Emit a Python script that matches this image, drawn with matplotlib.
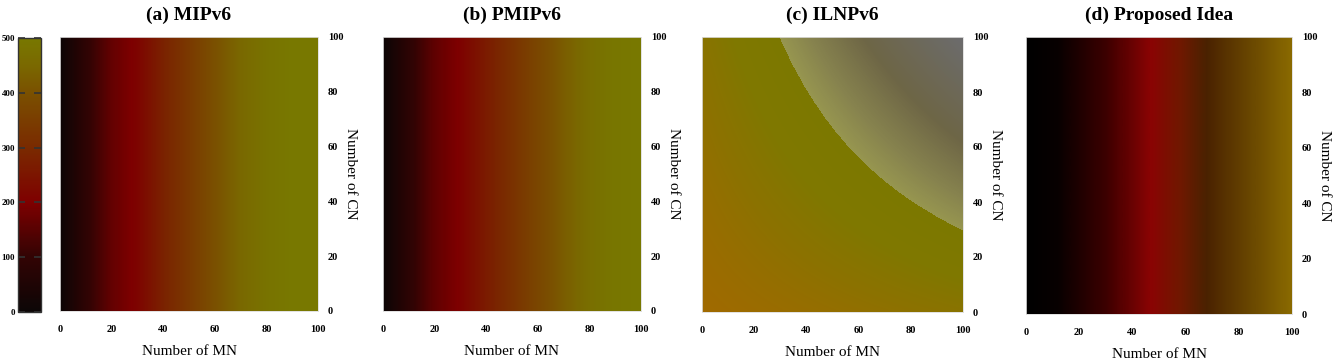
import numpy as np
import matplotlib
matplotlib.use("Agg")
import matplotlib.pyplot as plt
from matplotlib.colors import LinearSegmentedColormap, Normalize
from matplotlib.cm import ScalarMappable

plt.rcParams['font.family'] = ['Liberation Serif', 'DejaVu Serif']

# data: cost over Number of MN (columns) / Number of CN (rows)
mn_1d = [0, 10, 20, 30, 40, 50, 60, 70, 80, 90, 100]
mipv6 = [0, 90, 165, 210, 280, 340, 400, 450, 485, 500, 500]
pmipv6 = [0, 85, 160, 205, 265, 320, 375, 425, 470, 495, 500]
proposed = [0, 50, 100, 150, 200, 250, 300, 350, 400, 450, 500]

mn_c = [0, 20, 40, 60, 80, 100]
cn_c = [0, 20, 40, 60, 80, 100]
ilnpv6 = [[0, 30, 60, 90, 120, 150],
          [30, 80, 130, 180, 230, 280],
          [60, 130, 200, 270, 340, 410],
          [90, 180, 270, 360, 450, 540],
          [120, 230, 340, 450, 560, 670],
          [150, 280, 410, 540, 670, 800]]

titles = ["(a) MIPv6", "(b) PMIPv6", "(c) ILNPv6", "(d) Proposed Idea"]
ticks = [0, 20, 40, 60, 80, 100]
cb_ticks = [0, 100, 200, 300, 400, 500]

# palettes
cmap_main = LinearSegmentedColormap.from_list("main", [
    (0.0, "#0c0606"), (0.2, "#320404"), (0.4, "#7e0000"), (0.6, "#7a2a00"),
    (0.8, "#7a5000"), (0.9, "#7a6800"), (1.0, "#787800")])
cmap_c = LinearSegmentedColormap.from_list("ilnp", [
    (0.0, "#a06a00"), (0.16, "#8c7200"), (0.28, "#807800"), (0.43, "#7c7800"),
    (0.4312, "#979650"), (0.53, "#86824e"), (0.69, "#6e6646"), (1.0, "#6c6c6e")])
cmap_d = LinearSegmentedColormap.from_list("prop", [
    (0.0, "#000000"), (0.12, "#080000"), (0.3, "#3c0000"), (0.47, "#8a0404"),
    (0.58, "#701800"), (0.68, "#4a2200"), (0.85, "#6a4800"), (1.0, "#8a6a00")])

fig = plt.figure(figsize=(13.37, 3.59), dpi=100)
W, H = 1337.0, 359.0
boxes = [(60, 48, 258, 274), (383, 48, 258, 274), (702, 47, 261, 275), (1026, 45, 266, 277)]

for i, (x0, y0, w, h) in enumerate(boxes):
    ax = fig.add_axes([x0 / W, y0 / H, w / W, h / H])
    if i == 2:
        img = np.array(ilnpv6, dtype=float)
        ax.imshow(img, cmap=cmap_c, vmin=0, vmax=800, origin="lower",
                  extent=[-10, 110, -10, 110], aspect="auto",
                  interpolation="bilinear", interpolation_stage="data")
    else:
        prof = [mipv6, pmipv6, None, proposed][i]
        img = np.array([prof, prof], dtype=float)
        cm = cmap_d if i == 3 else cmap_main
        ax.imshow(img, cmap=cm, vmin=0, vmax=500, origin="lower",
                  extent=[-5, 105, 0, 100], aspect="auto",
                  interpolation="bilinear", interpolation_stage="data")
    ax.set_xlim(0, 100)
    ax.set_ylim(0, 100)
    ax.set_xticks(ticks)
    ax.set_yticks(ticks)
    ax.yaxis.tick_right()
    ax.yaxis.set_label_position("right")
    ax.tick_params(length=0, labelsize=7.5, pad=7)
    ax.tick_params(axis="x", pad=10)
    for lab in ax.get_xticklabels() + ax.get_yticklabels():
        lab.set_fontweight("bold")
    ax.set_xlabel("Number of MN", fontsize=11, labelpad=8)
    ax.set_ylabel("Number of CN", fontsize=11, rotation=270, labelpad=10)
    for sp in ax.spines.values():
        sp.set_color("#dddddd")
        sp.set_linewidth(0.6)
    fig.text((x0 + w / 2) / W, 1 - 15 / H, titles[i], ha="center", va="center",
             fontsize=14, fontweight="bold")

cax = fig.add_axes([18 / W, 47 / H, 23 / W, 274 / H])
cb = fig.colorbar(ScalarMappable(norm=Normalize(0, 500), cmap=cmap_main), cax=cax)
cb.set_ticks(cb_ticks)
cax.yaxis.tick_left()
cax.tick_params(direction="in", length=5, width=1.2, color="#333333",
                labelsize=6.5, pad=2, left=True, right=True)
for lab in cax.get_yticklabels():
    lab.set_fontweight("bold")
cb.outline.set_linewidth(1.0)
cb.outline.set_edgecolor("#333333")

fig.savefig("out.png", dpi=100)
